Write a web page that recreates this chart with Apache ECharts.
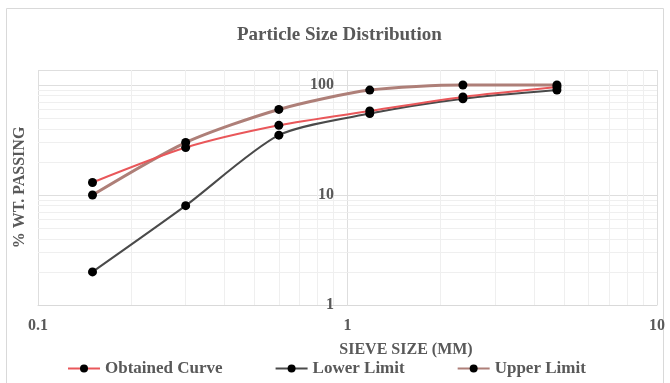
<!DOCTYPE html>
<html>
<head>
<meta charset="utf-8">
<script src="https://cdn.jsdelivr.net/npm/echarts@6/dist/echarts.min.js"></script>
<style>
  html, body { margin: 0; padding: 0; background: #ffffff; }
  #chart { width: 670px; height: 383px; }
</style>
</head>
<body>
<div id="chart"></div>
<script>
const sieveSizes = [0.15, 0.3, 0.6, 1.18, 2.36, 4.75];
const obtainedCurve = [13, 27, 43, 58, 78, 96];
const lowerLimit = [2, 8, 35, 55, 75, 90];
const upperLimit = [10, 30, 60, 90, 100, 100];

const xMinorGrid = [0.2, 0.3, 0.4, 0.5, 0.6, 0.7, 0.8, 0.9, 2, 3, 4, 5, 6, 7, 8, 9];
const yMinorGrid = [2, 3, 4, 5, 6, 7, 8, 9, 20, 30, 40, 50, 60, 70, 80, 90];

const FONT = "'Liberation Serif', 'Times New Roman', serif";
const TEXT_COLOR = "#595959";

const pairs = (vals) => sieveSizes.map((x, i) => [x, vals[i]]);

const chart = echarts.init(document.getElementById("chart"));

chart.setOption({
  animation: false,
  title: {
    text: "Particle Size Distribution",
    left: 232,
    top: 21,
    textStyle: { fontFamily: FONT, fontSize: 19, fontWeight: "bold", color: TEXT_COLOR },
  },
  graphic: [
    {
      type: "rect",
      shape: { x: 6.5, y: 8.5, width: 657, height: 380 },
      style: { fill: "none", stroke: "#d9d9d9", lineWidth: 1 },
      silent: true,
    },
  ],
  grid: { left: 38, right: 13, top: 70, bottom: 78 },
  xAxis: {
    type: "log",
    logBase: 10,
    min: 0.1,
    max: 10,
    name: "SIEVE SIZE (MM)",
    nameLocation: "middle",
    nameGap: 37,
    nameTextStyle: {
      fontFamily: FONT, fontSize: 16, fontWeight: "bold", color: TEXT_COLOR,
      padding: [0, 0, 0, 117],
    },
    axisLine: { show: true, lineStyle: { color: "#d9d9d9" } },
    axisTick: { show: false },
    axisLabel: {
      margin: 13,
      fontFamily: FONT, fontSize: 16, fontWeight: "bold", color: TEXT_COLOR,
    },
    splitLine: { show: true, lineStyle: { color: "#dedede" } },
  },
  yAxis: {
    type: "log",
    logBase: 10,
    min: 1,
    max: 137,
    name: "% WT. PASSING",
    nameLocation: "middle",
    nameGap: 10,
    nameTextStyle: { fontFamily: FONT, fontSize: 16, fontWeight: "bold", color: TEXT_COLOR },
    axisLine: { show: false },
    axisTick: { show: false },
    axisLabel: {
      margin: -296,
      fontFamily: FONT, fontSize: 16, fontWeight: "bold", color: TEXT_COLOR,
      formatter: (v) => ([1, 10, 100].includes(Math.round(v)) && Math.abs(v - Math.round(v)) < 1e-6 ? String(Math.round(v)) : ""),
    },
    splitLine: { show: true, lineStyle: { color: "#dedede" } },
  },
  legend: {
    bottom: 1,
    left: 62,
    itemGap: 52,
    itemWidth: 32,
    itemHeight: 10,
    textStyle: { fontFamily: FONT, fontSize: 17, fontWeight: "bold", color: TEXT_COLOR },
    data: ["Obtained Curve", "Lower Limit", "Upper Limit"],
  },
  series: [
    {
      name: "minor-grid",
      type: "line",
      z: 0,
      data: [],
      silent: true,
      markLine: {
        silent: true,
        z: 0,
        symbol: "none",
        label: { show: false },
        lineStyle: { color: "#efefef", type: "solid", width: 1 },
        data: [
          ...xMinorGrid.map((v) => ({ xAxis: v })),
          ...yMinorGrid.map((v) => ({ yAxis: v })),
        ],
      },
    },
    {
      name: "Lower Limit",
      type: "line",
      z: 3,
      data: pairs(lowerLimit),
      smooth: 0.25,
      symbol: "circle",
      symbolSize: 9,
      lineStyle: { color: "#4a4a4a", width: 2 },
      itemStyle: { color: "#000000" },
    },
    {
      name: "Upper Limit",
      type: "line",
      z: 3,
      data: pairs(upperLimit),
      smooth: 0.25,
      symbol: "circle",
      symbolSize: 9,
      lineStyle: { color: "#ae7f78", width: 3 },
      itemStyle: { color: "#000000" },
    },
    {
      name: "Obtained Curve",
      type: "line",
      z: 4,
      data: pairs(obtainedCurve),
      smooth: 0.25,
      symbol: "circle",
      symbolSize: 9,
      lineStyle: { color: "#e9575a", width: 2 },
      itemStyle: { color: "#000000" },
    },
  ],
});

window.addEventListener("resize", () => chart.resize());
</script>
</body>
</html>
